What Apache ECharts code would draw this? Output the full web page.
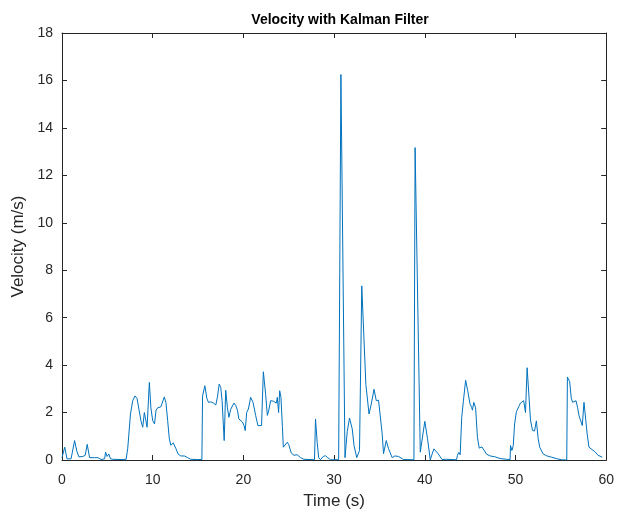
<!DOCTYPE html>
<html>
<head>
<meta charset="utf-8">
<script src="https://cdn.jsdelivr.net/npm/echarts@6/dist/echarts.min.js"></script>
<style>
  html, body { margin: 0; padding: 0; background: #fff; }
  #chart { width: 617px; height: 515px; }
</style>
</head>
<body>
<div id="chart"></div>
<script>
// Filtered velocity samples: time (s) and speed (m/s)
const timeSec = [
  0, 0.1, 0.3, 0.47, 0.55, 1.0, 1.2, 1.39, 1.65, 1.87, 2.3, 2.56, 2.78, 3.04, 3.2, 3.6, 3.96, 4.3, 4.7, 4.8,
  4.97, 5.16, 5.35, 5.6, 6.5, 7.07, 7.25, 7.55, 7.8, 8.05, 8.27, 8.5, 8.7, 8.9, 9.08, 9.27, 9.38, 9.63, 9.8, 10.0,
  10.2, 10.37, 10.55, 10.73, 10.9, 11.1, 11.28, 11.46, 11.65, 11.83, 12.0, 12.27, 12.56, 12.8, 13.1, 13.5, 13.85, 14.2, 14.95, 15.42,
  15.5, 15.75, 15.97, 16.15, 16.4, 16.7, 16.96, 17.14, 17.33, 17.5, 17.65, 17.88, 18.05, 18.24, 18.4, 18.6, 18.8, 18.97, 19.15, 19.34,
  19.5, 19.7, 19.9, 20.07, 20.2, 20.36, 20.55, 20.8, 21.06, 21.35, 21.6, 21.8, 22.0, 22.2, 22.45, 22.64, 22.8, 23.0, 23.3, 23.5,
  23.63, 23.74, 23.88, 24.0, 24.14, 24.3, 24.4, 24.6, 24.84, 25.0, 25.27, 25.57, 25.93, 26.3, 26.67, 27.84, 27.95, 28.13, 28.3, 28.5,
  28.8, 29.04, 29.3, 29.6, 29.8, 30.5, 30.65, 30.75, 31.2, 31.45, 31.7, 32.0, 32.2, 32.5, 32.8, 33.0, 33.05, 33.5, 33.85, 34.1,
  34.4, 34.65, 34.9, 35.1, 35.3, 35.45, 35.75, 36.0, 36.4, 36.7, 37.1, 37.65, 38.8, 38.93, 39.5, 40.0, 40.3, 40.6, 41.0, 41.5,
  41.9, 42.4, 42.9, 43.5, 43.6, 43.75, 43.9, 44.07, 44.25, 44.5, 44.73, 44.98, 45.16, 45.25, 45.4, 45.6, 45.8, 46.0, 46.3, 46.5,
  46.8, 47.2, 47.7, 48.3, 49.0, 49.4, 49.45, 49.6, 49.75, 49.9, 50.1, 50.36, 50.55, 50.7, 50.9, 51.1, 51.28, 51.46, 51.65, 51.87,
  52.1, 52.3, 52.5, 52.67, 53.04, 53.4, 53.96, 54.5, 55.05, 55.65, 55.72, 55.97, 56.15, 56.3, 56.5, 56.67, 56.85, 57.0, 57.15, 57.36,
  57.55, 57.7, 57.9, 58.1, 58.3, 58.75, 59.1, 59.56
];
const velocityMs = [
  0.1, 0.1, 0.54, 0.5, 0.05, 0.05, 0.1, 0.82, 0.35, 0.13, 0.15, 0.2, 0.66, 0.1, 0.05, 0.1, 0.1, 0.02, 0.05, 0.33,
  0.15, 0.25, 0.05, 0.03, 0.02, 0.03, 0.5, 1.94, 2.5, 2.7, 2.6, 2.1, 1.66, 1.38, 2.0, 2.05, 1.38, 3.27, 2.2, 1.66,
  1.52, 2.1, 2.2, 2.15, 2.24, 2.3, 2.66, 2.42, 1.66, 0.9, 0.62, 0.72, 0.48, 0.25, 0.17, 0.17, 0.1, 0.03, 0.02, 0.02,
  2.7, 3.13, 2.6, 2.43, 2.45, 2.4, 2.32, 2.66, 3.2, 3.06, 2.5, 0.82, 2.94, 2.2, 1.8, 2.14, 2.2, 2.4, 2.3, 2.1,
  1.73, 1.75, 1.6, 1.45, 1.24, 2.0, 2.15, 2.64, 2.43, 1.88, 1.45, 1.4, 1.45, 3.72, 2.77, 1.88, 2.1, 2.5, 2.48, 2.52,
  2.4, 2.64, 2.0, 2.92, 2.64, 1.4, 0.54, 0.56, 0.75, 0.65, 0.3, 0.2, 0.22, 0.1, 0.03, 0.01, 1.73, 0.75, 0.1, 0.01,
  0.15, 0.18, 0.1, 0.01, 0.03, 0.01, 0.02, 16.25, 0.1, 1.2, 1.77, 1.31, 0.6, 0.1, 0.4, 0.45, 7.34, 3.19, 1.94, 2.36,
  2.98, 2.5, 2.52, 2.56, 1.1, 0.27, 0.82, 0.48, 0.1, 0.17, 0.15, 0.02, 0.01, 13.17, 0.33, 1.63, 0.9, 0.01, 0.47, 0.25,
  0.02, 0.03, 0.02, 0.01, 0.2, 0.32, 0.22, 1.8, 2.47, 3.36, 2.92, 2.37, 2.22, 2.1, 2.43, 2.2, 0.96, 0.5, 0.55, 0.52,
  0.25, 0.17, 0.14, 0.06, 0.03, 0.02, 0.61, 0.4, 0.6, 1.52, 2.04, 2.25, 2.4, 2.38, 2.5, 2.0, 3.89, 2.82, 1.69, 1.25,
  1.22, 1.65, 0.9, 0.54, 0.26, 0.18, 0.12, 0.06, 0.01, 0.0, 3.5, 3.3, 2.6, 2.43, 2.48, 2.5, 2.2, 1.87, 1.8, 1.45,
  2.43, 2.35, 1.1, 0.54, 0.5, 0.35, 0.2, 0.12
];

// Axis ranges and tick steps
const xRange = [0, 60];
const xStep = 10;
const yRange = [0, 18];
const yStep = 2;

const titleText = 'Velocity with Kalman Filter';
const xLabel = 'Time (s)';
const yLabel = 'Velocity (m/s)';

const points = timeSec.map((t, i) => [t, velocityMs[i]]);

const axisColor = '#262626';
const fontFamily = '"Liberation Sans", Arial, sans-serif';

const chart = echarts.init(document.getElementById('chart'), null, { renderer: 'canvas' });

const baseAxisLine = { show: true, onZero: false, lineStyle: { color: axisColor, width: 1 } };
const baseTick = { show: true, inside: true, length: 5, lineStyle: { color: axisColor, width: 1 } };

chart.setOption({
  animation: false,
  backgroundColor: '#ffffff',
  title: {
    text: titleText,
    left: 335,
    textAlign: 'center',
    top: 8,
    textStyle: { fontFamily, fontSize: 14, fontWeight: 'bold', color: '#000' }
  },
  grid: { left: 62, right: 9, top: 33, bottom: 52, containLabel: false },
  xAxis: [
    {
      type: 'value', min: xRange[0], max: xRange[1], interval: xStep, position: 'bottom',
      name: xLabel, nameLocation: 'middle', nameGap: 33,
      nameTextStyle: { fontFamily, fontSize: 17, color: axisColor },
      axisLine: baseAxisLine, axisTick: baseTick,
      axisLabel: { fontFamily, fontSize: 14, color: axisColor, margin: 13 },
      splitLine: { show: false }
    },
    {
      type: 'value', min: xRange[0], max: xRange[1], interval: xStep, position: 'top',
      axisLine: baseAxisLine, axisTick: baseTick,
      axisLabel: { show: false }, splitLine: { show: false }
    }
  ],
  yAxis: [
    {
      type: 'value', min: yRange[0], max: yRange[1], interval: yStep, position: 'left',
      name: yLabel, nameLocation: 'middle', nameGap: 26, nameRotate: 90,
      nameTextStyle: { fontFamily, fontSize: 17, color: axisColor },
      axisLine: baseAxisLine, axisTick: baseTick,
      axisLabel: { fontFamily, fontSize: 14, color: axisColor, margin: 9 },
      splitLine: { show: false }
    },
    {
      type: 'value', min: yRange[0], max: yRange[1], interval: yStep, position: 'right',
      axisLine: baseAxisLine, axisTick: baseTick,
      axisLabel: { show: false }, splitLine: { show: false }
    }
  ],
  series: [
    {
      type: 'line',
      xAxisIndex: 0,
      yAxisIndex: 0,
      data: points,
      showSymbol: false,
      smooth: false,
      lineStyle: { color: '#0072BD', width: 1 },
      itemStyle: { color: '#0072BD' }
    }
  ]
});
</script>
</body>
</html>
